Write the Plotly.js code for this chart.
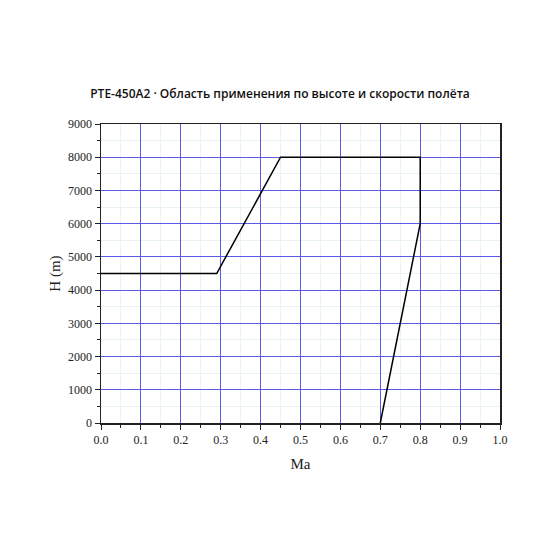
<!DOCTYPE html>
<html>
<head>
<meta charset="utf-8">
<script src="https://cdn.plot.ly/plotly-3.0.1.min.js"></script>
<style>html,body{margin:0;padding:0;background:#fff}#chart{width:560px;height:560px}</style>
</head>
<body>
<div id="chart"></div>
<script>
// flight envelope boundary (Mach, altitude m)
const machPoints = [0.0, 0.29, 0.45, 0.8, 0.8, 0.7];
const altitudePoints = [4500, 4500, 8000, 8000, 6000, 0];
const xRange = [0, 1.0];
const yRange = [0, 9000];

// minor ticks sit halfway between the major ones
const xMinor = [0.05, 0.15, 0.25, 0.35, 0.45, 0.55, 0.65, 0.75, 0.85, 0.95];
const yMinor = [500, 1500, 2500, 3500, 4500, 5500, 6500, 7500, 8500];

const serif = 'Liberation Serif, Times New Roman, serif';

const axisBase = {
  showline: true, linecolor: '#222', linewidth: 1.5, mirror: true,
  ticks: 'outside', ticklen: 5, tickcolor: '#222', tickwidth: 1,
  showgrid: true, gridcolor: '#5a5ae6', gridwidth: 1,
  zeroline: false, tick0: 0,
  tickfont: { family: serif, size: 12, color: '#222' }
};

const minorBase = { ticks: 'outside', ticklen: 3, tickcolor: '#222', showgrid: true, gridcolor: '#eaf5ea', gridwidth: 1 };

Plotly.newPlot('chart', [{
  x: machPoints, y: altitudePoints,
  type: 'scatter', mode: 'lines',
  line: { color: '#000', width: 1.5 },
  showlegend: false, hoverinfo: 'skip'
}], {
  width: 560, height: 560,
  paper_bgcolor: '#fff', plot_bgcolor: '#fff',
  margin: { l: 101, r: 60, t: 124, b: 137 },
  title: {
    text: 'PTE-450A2 · Область применения по высоте и скорости полёта',
    font: { family: 'Open Sans, Noto Sans, sans-serif', size: 12, color: '#111', weight: 600 },
    x: 0.5, xanchor: 'center', y: 0.833, yanchor: 'middle'
  },
  xaxis: Object.assign({}, axisBase, {
    range: xRange, dtick: 0.1, tickformat: '.1f',
    minor: Object.assign({}, minorBase, { tickmode: 'array', tickvals: xMinor }),
    title: { text: 'Ma', font: { family: serif, size: 15, color: '#222' }, standoff: 12 }
  }),
  yaxis: Object.assign({}, axisBase, {
    range: yRange, dtick: 1000,
    minor: Object.assign({}, minorBase, { tickmode: 'array', tickvals: yMinor }),
    title: { text: 'H (m)', font: { family: serif, size: 15, color: '#222' }, standoff: 4 }
  })
}, { displayModeBar: false, staticPlot: true });
</script>
</body>
</html>
